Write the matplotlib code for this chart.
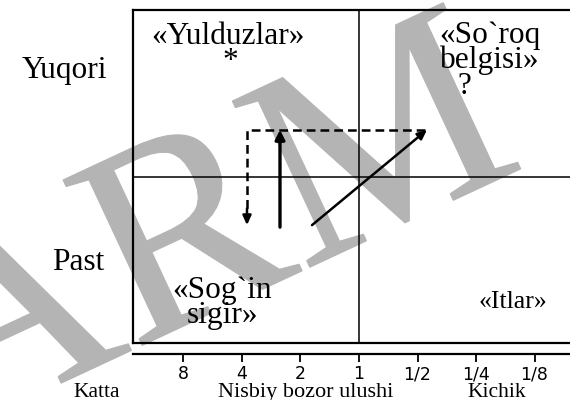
import matplotlib
matplotlib.use('Agg')
import matplotlib.pyplot as plt
from matplotlib.ticker import NullLocator
from matplotlib.textpath import TextPath
from matplotlib.patches import PathPatch
from matplotlib.font_manager import FontProperties
from matplotlib.transforms import Affine2D, IdentityTransform

# nisbiy bozor ulushi (log2 o'q, chapdan o'ngga kamayadi)
share_ticks = [8, 4, 2, 1, 1/2, 1/4, 1/8]
tick_labels = ['8', '4', '2', '1', '1/2', '1/4', '1/8']
share_lim = (14.55, 0.0821)
share_mid = 1
growth_mid = 0.5

# strelkalar (x - bozor ulushi, y - o'sish)
dash_x = [0.46, 3.77, 3.77]
dash_y = [0.64, 0.64, 0.37]
dash_tip = (3.77, 0.354)
up_x = 2.55
up_y = (0.348, 0.64)
diag_from = (1.745, 0.354)
diag_to = (0.447, 0.64)

W, H = 570, 400
serif = 'Liberation Serif'


def fx(px):
    return px / W


def fy(py):
    return 1 - py / H


fig = plt.figure(figsize=(5.7, 4.0), dpi=100)

# suv belgisi (kulrang "ARM")
wm = TextPath((0, 0), 'ARM', size=1, prop=FontProperties(family=serif))
wm_tr = Affine2D().scale(280).rotate_deg(25).translate(-50, -35)
fig.add_artist(PathPatch(wm, transform=wm_tr + IdentityTransform(),
                         facecolor='#b4b4b4', edgecolor='#b4b4b4', lw=0.8,
                         zorder=-1))

ax = fig.add_axes([fx(133), fy(343), fx(570) - fx(133), fy(10) - fy(343)])
ax.patch.set_alpha(0)

ax.set_xscale('log', base=2)
ax.set_xlim(*share_lim)
ax.set_ylim(0, 1)
ax.set_xticks(share_ticks, tick_labels)
ax.xaxis.set_minor_locator(NullLocator())
ax.set_yticks([])
ax.tick_params(axis='x', direction='out', length=6, width=1.3, pad=2,
               labelsize=12.5)
for lab in ax.get_xticklabels():
    lab.set_family('Liberation Sans')

ax.spines['right'].set_visible(False)
ax.spines['top'].set_linewidth(1.6)
ax.spines['left'].set_linewidth(1.6)
ax.spines['bottom'].set_linewidth(1.6)
ax.spines['bottom'].set_position(('outward', 8))
ax.axhline(0, color='black', lw=1.6, clip_on=False)
ax.axhline(growth_mid, color='black', lw=1.1)
ax.axvline(share_mid, color='black', lw=1.1)

# strelkalar
ax.plot(dash_x, dash_y, color='black', lw=1.8, ls=(0, (3.5, 2)))
ax.annotate('', xy=dash_tip, xytext=(dash_tip[0], dash_tip[1] + 0.05),
            arrowprops=dict(arrowstyle='-|>,head_length=0.55,head_width=0.25',
                            color='black', lw=1.8, shrinkA=0, shrinkB=0))
ax.annotate('', xy=(up_x, up_y[1]), xytext=(up_x, up_y[0]),
            arrowprops=dict(arrowstyle='-|>,head_length=0.55,head_width=0.28',
                            color='black', lw=2.4, shrinkA=0, shrinkB=0))
ax.annotate('', xy=diag_to, xytext=diag_from,
            arrowprops=dict(arrowstyle='-|>,head_length=0.55,head_width=0.25',
                            color='black', lw=1.8, shrinkA=0, shrinkB=0))

# kvadrant nomlari
qs = 22.6
fig.text(fx(228), fy(44), '«Yulduzlar»', fontsize=qs, family=serif, ha='center', va='baseline')
fig.text(fx(230), fy(69), '*', fontsize=qs, family=serif, ha='center', va='baseline')
fig.text(fx(490), fy(43), '«So`roq', fontsize=qs, family=serif, ha='center', va='baseline')
fig.text(fx(490), fy(68), 'belgisi»', fontsize=qs, family=serif, ha='center', va='baseline')
fig.text(fx(464), fy(94), '?', fontsize=qs, family=serif, ha='center', va='baseline')
fig.text(fx(222), fy(298), '«Sog`in', fontsize=qs, family=serif, ha='center', va='baseline')
fig.text(fx(222), fy(323), 'sigir»', fontsize=qs, family=serif, ha='center', va='baseline')
fig.text(fx(513), fy(308), '«Itlar»', fontsize=18.5, family=serif, ha='center', va='baseline')

# o'q yozuvlari
fig.text(fx(64), fy(78), 'Yuqori', fontsize=qs, family=serif, ha='center', va='baseline')
fig.text(fx(78), fy(270), 'Past', fontsize=qs, family=serif, ha='center', va='baseline')
fig.text(fx(97), fy(397), 'Katta', fontsize=15.5, family=serif, ha='center', va='baseline')
fig.text(fx(306), fy(397), 'Nisbiy bozor ulushi', fontsize=16, family=serif, ha='center', va='baseline')
fig.text(fx(497), fy(397), 'Kichik', fontsize=15.5, family=serif, ha='center', va='baseline')

fig.savefig('out.png', dpi=100)
